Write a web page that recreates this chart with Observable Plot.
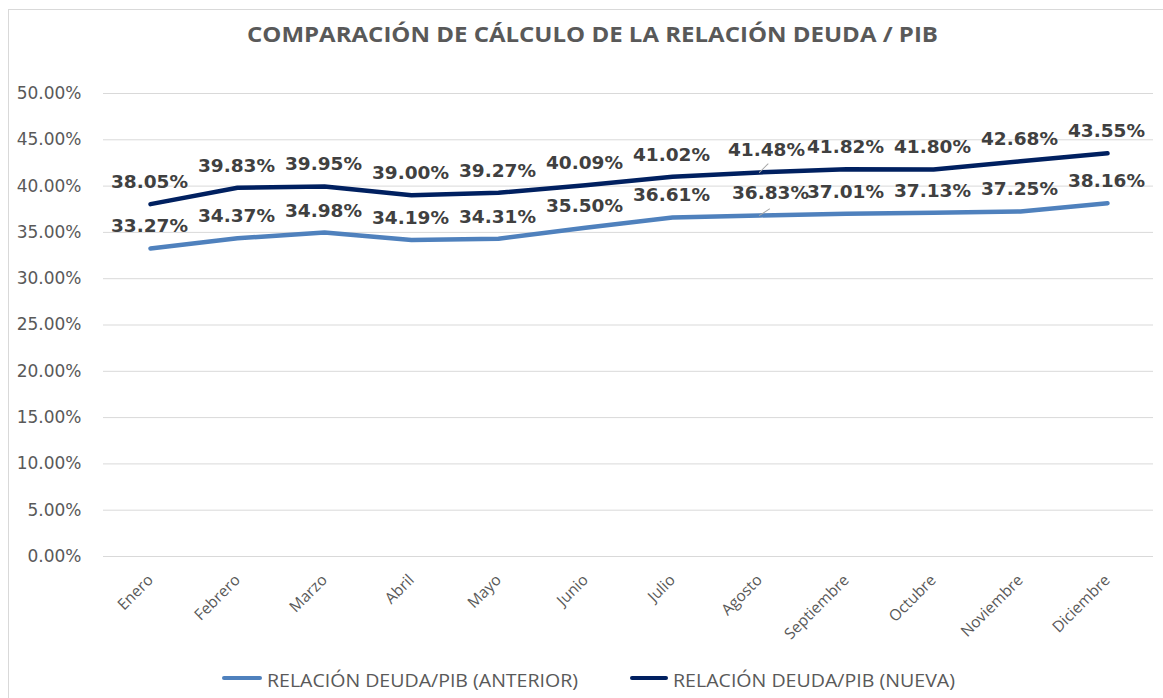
<!DOCTYPE html>
<html>
<head>
<meta charset="utf-8">
<script src="https://cdn.jsdelivr.net/npm/d3@7"></script>
<script src="https://cdn.jsdelivr.net/npm/@observablehq/plot@0.6"></script>
<style>
  html, body { margin: 0; padding: 0; background: #fff; overflow: hidden; }
  #wrap { position: relative; width: 1163px; height: 698px; overflow: hidden; background: #fff; }
  #frame { position: absolute; left: 8px; top: 9px; width: 1300px; height: 800px; border: 1px solid #d9d9d9; box-sizing: border-box; }
  #title { position: absolute; left: 0; top: 0; }
  #chart { position: absolute; left: 0; top: 60px; }
  #legend { position: absolute; left: 0; top: 660px; }
  g[aria-label="y-axis tick label"] text { font-family: "DejaVu Sans", sans-serif; }
  g[aria-label="x-axis tick label"] text { font-family: "Open Sans", sans-serif; }
</style>
</head>
<body>
<div id="wrap">
  <div id="frame"></div>
  <div id="title"></div>
  <div id="chart"></div>
  <div id="legend"></div>
</div>
<script>
// ---- data ----
const months = ["Enero", "Febrero", "Marzo", "Abril", "Mayo", "Junio", "Julio", "Agosto", "Septiembre", "Octubre", "Noviembre", "Diciembre"];
const anterior = [33.27, 34.37, 34.98, 34.19, 34.31, 35.50, 36.61, 36.83, 37.01, 37.13, 37.25, 38.16];
const nueva = [38.05, 39.83, 39.95, 39.00, 39.27, 40.09, 41.02, 41.48, 41.82, 41.80, 42.68, 43.55];
const yTicks = [0, 5, 10, 15, 20, 25, 30, 35, 40, 45, 50];
const seriesNames = ["RELACIÓN DEUDA/PIB (ANTERIOR)", "RELACIÓN DEUDA/PIB (NUEVA)"];
const seriesColors = ["#4f81bd", "#002060"];
const titleText = "COMPARACIÓN DE CÁLCULO DE LA RELACIÓN DEUDA / PIB";

const rows = [];
[anterior, nueva].forEach((vals, s) => {
  vals.forEach((v, i) => rows.push({month: months[i], value: v, series: seriesNames[s]}));
});

const fmt = v => v.toFixed(2) + "%";
const shifted = r => r.month === "Agosto";

// ---- title ----
const svgNS = "http://www.w3.org/2000/svg";
function makeSvg(w, h) {
  const s = document.createElementNS(svgNS, "svg");
  s.setAttribute("width", w); s.setAttribute("height", h);
  return s;
}
{
  const s = makeSvg(1163, 60);
  const t = document.createElementNS(svgNS, "text");
  t.setAttribute("x", 247); t.setAttribute("y", 42);
  t.setAttribute("textLength", 691);
  t.setAttribute("lengthAdjust", "spacingAndGlyphs");
  t.setAttribute("font-family", "Open Sans, sans-serif");
  t.setAttribute("font-weight", "bold");
  t.setAttribute("font-size", 21.5);
  t.setAttribute("fill", "#595959");
  t.textContent = titleText;
  s.appendChild(t);
  document.getElementById("title").appendChild(s);
}

// ---- chart ----
const labelStyle = {fontSize: 18.5, fontWeight: "bold", fontFamily: "DejaVu Sans, sans-serif", fill: "#404040"};
const chart = Plot.plot({
  width: 1163,
  height: 600,
  marginTop: 33,
  marginBottom: 104,
  marginLeft: 103,
  marginRight: 10,
  x: {type: "point", domain: months, padding: 0.5},
  y: {domain: [0, 50]},
  color: {domain: seriesNames, range: seriesColors},
  marks: [
    Plot.ruleY(yTicks, {stroke: "#d9d9d9", strokeWidth: 1}),
    Plot.axisY({ticks: yTicks, tickSize: 0, tickPadding: 22, tickFormat: d => d.toFixed(2) + "%", fontSize: 17, fill: "#595959", label: null}),
    Plot.axisX({tickSize: 0, tickRotate: -45, tickPadding: 21, fontSize: 15.5, fill: "#595959", label: null}),
    Plot.line(rows, {x: "month", y: "value", z: "series", stroke: "series", strokeWidth: 4.5, strokeLinecap: "round", strokeLinejoin: "round"}),
    Plot.vector(rows.filter(shifted), {x: "month", y: "value", length: 12, rotate: r => r.series === seriesNames[1] ? 45 : 57, anchor: "start", r: 0, stroke: "#a6a6a6", strokeWidth: 1}),
    Plot.text(rows.filter(r => !shifted(r)), {x: "month", y: "value", text: d => fmt(d.value), dx: -1, dy: -22, ...labelStyle}),
    Plot.text(rows.filter(r => shifted(r) && r.series === seriesNames[1]), {x: "month", y: "value", text: d => fmt(d.value), dx: 7, dy: -22, ...labelStyle}),
    Plot.text(rows.filter(r => shifted(r) && r.series === seriesNames[0]), {x: "month", y: "value", text: d => fmt(d.value), dx: 11, dy: -22, ...labelStyle})
  ]
});
document.getElementById("chart").appendChild(chart);

// ---- legend ----
{
  const s = makeSvg(1163, 38);
  const items = [
    {x1: 224, x2: 260, tx: 267, tw: 311},
    {x1: 632, x2: 666, tx: 673, tw: 282}
  ];
  items.forEach((it, i) => {
    const l = document.createElementNS(svgNS, "line");
    l.setAttribute("x1", it.x1); l.setAttribute("x2", it.x2);
    l.setAttribute("y1", 18); l.setAttribute("y2", 18);
    l.setAttribute("stroke", seriesColors[i]);
    l.setAttribute("stroke-width", 4);
    l.setAttribute("stroke-linecap", "round");
    s.appendChild(l);
    const t = document.createElementNS(svgNS, "text");
    t.setAttribute("x", it.tx); t.setAttribute("y", 26.5);
    t.setAttribute("textLength", it.tw);
    t.setAttribute("lengthAdjust", "spacingAndGlyphs");
    t.setAttribute("font-family", "Open Sans, sans-serif");
    t.setAttribute("font-size", 19);
    t.setAttribute("fill", "#595959");
    t.textContent = seriesNames[i];
    s.appendChild(t);
  });
  document.getElementById("legend").appendChild(s);
}
</script>
</body>
</html>
